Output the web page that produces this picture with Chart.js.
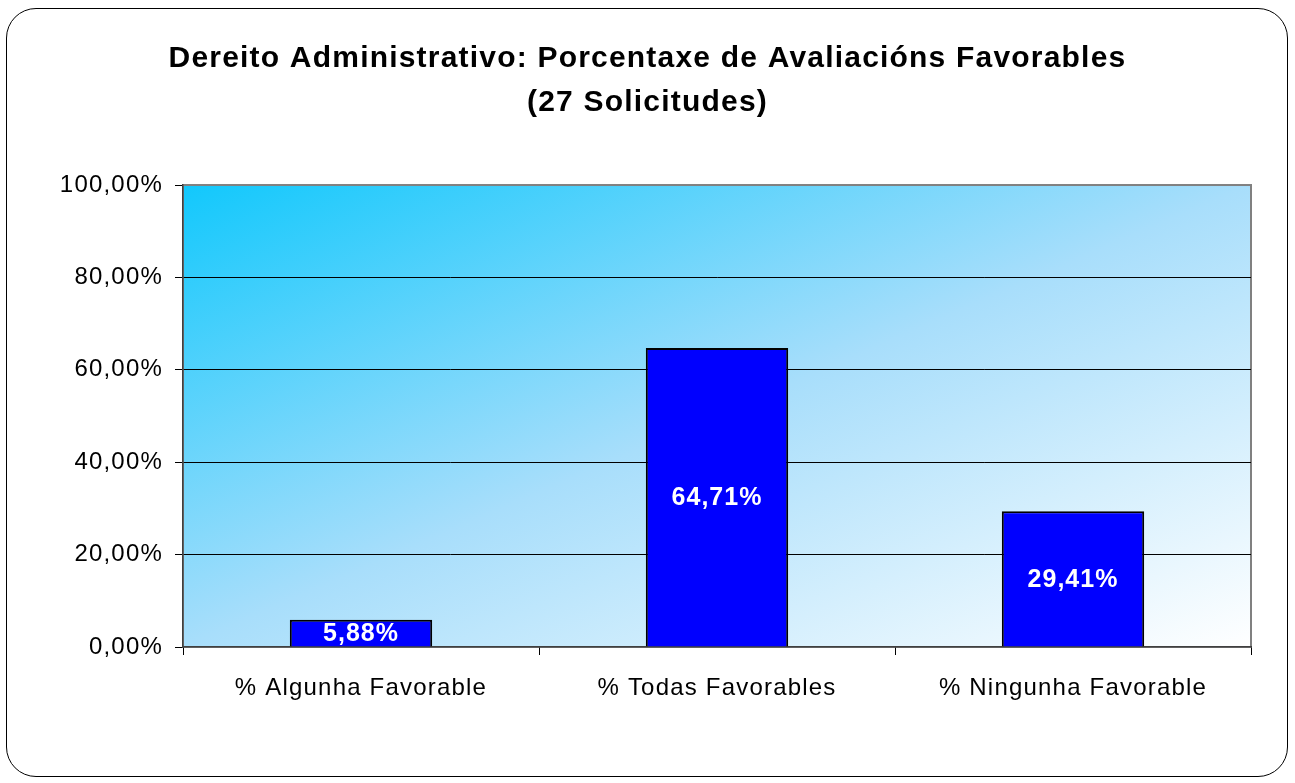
<!DOCTYPE html>
<html>
<head>
<meta charset="utf-8">
<script src="https://cdn.jsdelivr.net/npm/chart.js@4/dist/chart.umd.min.js"></script>
<style>
  html, body { margin: 0; padding: 0; background: #fff; }
  #frame {
    position: absolute; left: 6px; top: 8px; width: 1282px; height: 769px;
    border: 1.5px solid #000; border-radius: 30px; box-sizing: border-box;
  }
  #wrap { position: absolute; left: 0; top: 0; width: 1295px; height: 783px; }
</style>
</head>
<body>
<div id="frame"></div>
<div id="wrap"><canvas id="grafico" width="1295" height="783"></canvas></div>
<script>
const titleLines = ['Dereito Administrativo: Porcentaxe de Avaliacións Favorables', '(27 Solicitudes)'];
const categories = ['% Algunha Favorable', '% Todas Favorables', '% Ningunha Favorable'];
const percentages = [5.88, 64.71, 29.41];
const yTicks = [0, 20, 40, 60, 80, 100];
const yTickLabels = ['0,00%', '20,00%', '40,00%', '60,00%', '80,00%', '100,00%'];

const FONT = "'Liberation Sans', Arial, sans-serif";

// gradient behind the plot area (iso-lines along the anti-diagonal, like Excel) + gray frame
const plotBackground = {
    id: 'plotBackground',
    beforeDraw(chart) {
        const { ctx, chartArea: a } = chart;
        const W = a.right - a.left, H = a.bottom - a.top;
        const k = 2 * W * H / (W * W + H * H);
        const g = ctx.createLinearGradient(a.left, a.top, a.left + H * k, a.top + W * k);
        g.addColorStop(0, '#12c8fc');
        g.addColorStop(0.5, '#a8defb');
        g.addColorStop(1, '#ffffff');
        ctx.save();
        ctx.fillStyle = g;
        ctx.fillRect(a.left, a.top, W, H);
        ctx.strokeStyle = '#808080';
        ctx.lineWidth = 2;
        ctx.strokeRect(a.left, a.top, W, H);
        ctx.restore();
        ctx.letterSpacing = '1.2px';
    },
    afterDraw(chart) {
        chart.ctx.letterSpacing = '0px';
    }
};

// white value labels in the middle of each bar
const barLabels = {
    id: 'barLabels',
    afterDatasetsDraw(chart) {
        const { ctx } = chart;
        const meta = chart.getDatasetMeta(0);
        ctx.save();
        ctx.letterSpacing = '1px';
        ctx.font = 'bold 25px ' + FONT;
        ctx.fillStyle = '#ffffff';
        ctx.textAlign = 'center';
        ctx.textBaseline = 'middle';
        meta.data.forEach((bar, i) => {
            const txt = percentages[i].toFixed(2).replace('.', ',') + '%';
            ctx.fillText(txt, bar.x, (bar.y + bar.base) / 2 + 1);
        });
        ctx.restore();
    }
};

const ctx = document.getElementById('grafico').getContext('2d');
new Chart(ctx, {
    type: 'bar',
    data: {
        labels: categories,
        datasets: [{
            data: percentages,
            backgroundColor: '#0000ff',
            borderColor: '#000000',
            borderWidth: 2,
            categoryPercentage: 1,
            barPercentage: 0.4
        }]
    },
    options: {
        responsive: false,
        animation: false,
        layout: { padding: 0 },
        plugins: {
            legend: { display: false },
            tooltip: { enabled: false },
            title: {
                display: true,
                text: titleLines,
                color: '#000',
                font: { family: FONT, size: 30, weight: 'bold', lineHeight: 1.467 },
                padding: { top: 37, bottom: 60 }
            }
        },
        scales: {
            x: {
                grid: {
                    offset: true,
                    drawOnChartArea: false,
                    drawTicks: true,
                    tickLength: 8,
                    color: '#000'
                },
                border: { color: '#404040', width: 1.5 },
                ticks: {
                    color: '#000',
                    padding: 19,
                    font: { family: FONT, size: 24 }
                },
                afterFit(scale) { scale.height = 136; }
            },
            y: {
                min: 0,
                max: 100,
                afterBuildTicks(scale) { scale.ticks = yTicks.map(v => ({ value: v })); },
                grid: {
                    color: c => (c.tick && (c.tick.value === 100 || c.tick.value === 0)) ? 'rgba(0,0,0,0)' : '#000',
                    tickColor: '#000',
                    tickLength: 8,
                    lineWidth: 1
                },
                border: { color: '#404040', width: 1.5 },
                ticks: {
                    color: '#000',
                    padding: 12,
                    font: { family: FONT, size: 24 },
                    callback: (v) => yTickLabels[yTicks.indexOf(v)]
                },
                afterFit(scale) { scale.width = 183; }
            },
            // empty right-hand axis that only reserves the margin right of the plot
            yRight: {
                position: 'right',
                display: true,
                grid: { display: false, drawTicks: false },
                border: { display: false },
                ticks: { display: false },
                afterFit(scale) { scale.width = 44; }
            }
        }
    },
    plugins: [plotBackground, barLabels]
});
</script>
</body>
</html>
